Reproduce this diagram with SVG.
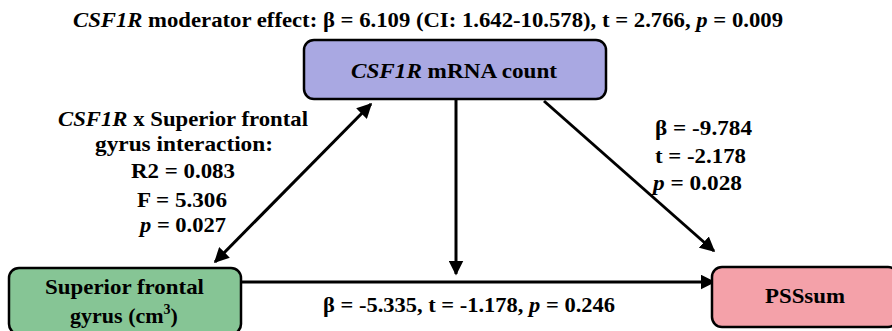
<svg xmlns="http://www.w3.org/2000/svg" width="892" height="331" viewBox="0 0 892 331">
<style>
text{font-family:'Liberation Serif','Times New Roman',serif;font-weight:bold;font-size:22px;fill:#000}
.box{stroke:#000;stroke-width:2.5}
.c{text-anchor:middle}
.conn{stroke:#000;stroke-width:3;fill:none}
</style>
<defs>
<marker id="ah" viewBox="0 0 10 10" refX="9" refY="5" markerWidth="5" markerHeight="5" orient="auto-start-reverse" markerUnits="strokeWidth">
<path d="M0,0 L10,5 L0,10 z" fill="#000"/>
</marker>
</defs>
<rect width="892" height="331" fill="#fff"/>
<text x="428" y="27" class="c" font-size="19" textLength="710" lengthAdjust="spacingAndGlyphs"><tspan font-style="italic">CSF1R</tspan> moderator effect: β = 6.109 (CI: 1.642-10.578), t = 2.766, <tspan font-style="italic">p</tspan> = 0.009</text>
<g id="connectors">
<line class="conn" x1="215" y1="262" x2="371" y2="104" marker-start="url(#ah)" marker-end="url(#ah)"/>
<line class="conn" x1="456" y1="100" x2="456" y2="274" marker-end="url(#ah)"/>
<line class="conn" x1="544" y1="101" x2="714" y2="251" marker-end="url(#ah)"/>
<line class="conn" x1="241" y1="282" x2="714" y2="282" marker-end="url(#ah)"/>
</g>
<g id="csf1r">
<rect class="box" x="304" y="40" width="302" height="59" rx="10" fill="#a9a8e2"/>
<text x="454" y="78" class="c" textLength="206" lengthAdjust="spacingAndGlyphs"><tspan font-style="italic">CSF1R</tspan> mRNA count</text>
</g>
<g id="sfg">
<rect class="box" x="9" y="268" width="232" height="66" rx="10" fill="#86c595"/>
<text x="124.5" y="294" class="c" textLength="159" lengthAdjust="spacingAndGlyphs">Superior frontal</text>
<text x="124" y="323" class="c">gyrus (cm<tspan font-size="14" dy="-9">3</tspan><tspan dy="9">)</tspan></text>
</g>
<g id="pss">
<rect class="box" x="712" y="267" width="186" height="60" rx="10" fill="#f4a1a9"/>
<text x="805" y="303" class="c" textLength="80" lengthAdjust="spacingAndGlyphs">PSSsum</text>
</g>
<g id="labels">
<text x="183" y="126" class="c" textLength="250" lengthAdjust="spacingAndGlyphs"><tspan font-style="italic">CSF1R</tspan> x Superior frontal</text>
<text x="184" y="151" class="c" textLength="178" lengthAdjust="spacingAndGlyphs">gyrus interaction:</text>
<text x="183" y="178" class="c" textLength="104" lengthAdjust="spacingAndGlyphs">R2 = 0.083</text>
<text x="182" y="207" class="c" textLength="90" lengthAdjust="spacingAndGlyphs">F = 5.306</text>
<text x="183" y="232" class="c" textLength="86" lengthAdjust="spacingAndGlyphs"><tspan font-style="italic">p</tspan> = 0.027</text>
<text x="655" y="135" textLength="97" lengthAdjust="spacingAndGlyphs">β = -9.784</text>
<text x="655" y="163" textLength="91" lengthAdjust="spacingAndGlyphs">t = -2.178</text>
<text x="653" y="190" textLength="89" lengthAdjust="spacingAndGlyphs"><tspan font-style="italic">p</tspan> = 0.028</text>
<text x="469" y="312" class="c" textLength="292" lengthAdjust="spacingAndGlyphs">β = -5.335, t = -1.178, <tspan font-style="italic">p</tspan> = 0.246</text>
</g>
</svg>
